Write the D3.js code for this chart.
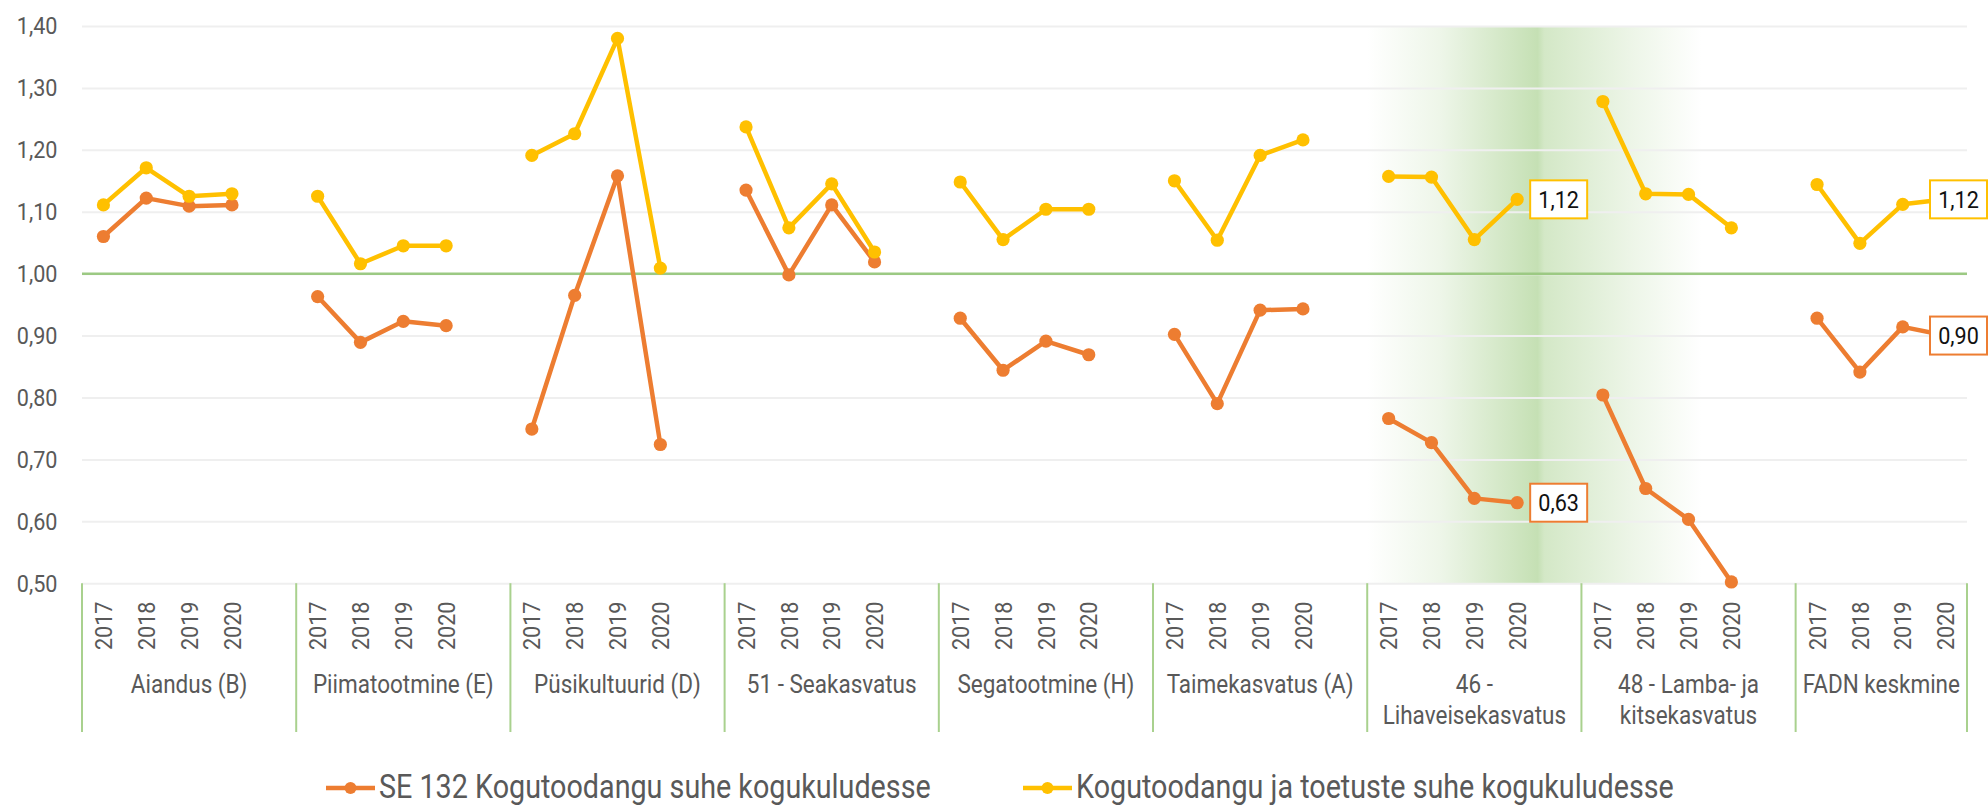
<!DOCTYPE html>
<html>
<head>
<meta charset="utf-8">
<script src="https://cdn.jsdelivr.net/npm/d3@7"></script>
<style>
  html, body { margin: 0; padding: 0; background: #fff; }
  svg { display: block; font-family: Roboto, "Noto Sans", sans-serif; }
</style>
</head>
<body>
<svg id="chart" width="1988" height="806"></svg>
<script>
// ---- data -------------------------------------------------------------
const categories = [
  "Aiandus (B)",
  "Piimatootmine (E)",
  "Püsikultuurid (D)",
  "51 - Seakasvatus",
  "Segatootmine (H)",
  "Taimekasvatus (A)",
  "46 - Lihaveisekasvatus",
  "48 - Lamba- ja kitsekasvatus",
  "FADN keskmine"
];
const years = ["2017", "2018", "2019", "2020"];

const seriesNames = [
  "SE 132 Kogutoodangu suhe kogukuludesse",
  "Kogutoodangu ja toetuste suhe kogukuludesse"
];

// SE 132: gross output / total costs
const outputRatio = [
  [1.060, 1.122, 1.109, 1.111],
  [0.963, 0.889, 0.923, 0.916],
  [0.749, 0.965, 1.158, 0.724],
  [1.135, 0.998, 1.111, 1.019],
  [0.928, 0.844, 0.891, 0.869],
  [0.902, 0.790, 0.941, 0.943],
  [0.766, 0.727, 0.637, 0.63],
  [0.804, 0.653, 0.603, 0.502],
  [0.928, 0.841, 0.914, 0.90]
];

// (gross output + subsidies) / total costs
const outputSubsidyRatio = [
  [1.111, 1.171, 1.125, 1.129],
  [1.125, 1.016, 1.045, 1.045],
  [1.191, 1.226, 1.380, 1.009],
  [1.237, 1.074, 1.145, 1.035],
  [1.148, 1.055, 1.104, 1.104],
  [1.150, 1.054, 1.191, 1.216],
  [1.157, 1.156, 1.055, 1.12],
  [1.278, 1.129, 1.128, 1.074],
  [1.144, 1.049, 1.112, 1.12]
];

const yTicks = [0.5, 0.6, 0.7, 0.8, 0.9, 1.0, 1.1, 1.2, 1.3, 1.4];
const labelledCategories = [6, 8];   // groups whose 2020 values get a value box
const highlightedCategory = 6;       // group behind the green glow

// ---- layout -----------------------------------------------------------
const colors = ["#ED7D31", "#FFC000"];
const textGray = "#595959";
const plot = { left: 82, right: 1967, top: 26, bottom: 583.2 };
const slotsPerGroup = years.length + 1;               // one blank slot between groups
const slotCount = categories.length * slotsPerGroup - 1;
const condenseK = 0.9;

const svg = d3.select("#chart");

const x = d3.scaleBand()
  .domain(d3.range(slotCount))
  .range([plot.left, plot.right])
  .padding(0);
const bw = x.bandwidth();
const px = (ci, yi) => x(ci * slotsPerGroup + yi) + bw / 2;

const y = d3.scaleLinear().domain([0.5, 1.4]).range([plot.bottom, plot.top]);

const fmt = v => d3.format(".2f")(v).replace(".", ",");

function condense(sel, k = condenseK) {
  sel.each(function () {
    const w = this.getComputedTextLength();
    this.setAttribute("textLength", w * k);
    this.setAttribute("lengthAdjust", "spacingAndGlyphs");
  });
}

// ---- green glow behind one group --------------------------------------
const defs = svg.append("defs");
const grad = defs.append("linearGradient").attr("id", "glow")
  .attr("x1", "0%").attr("x2", "100%").attr("y1", "0%").attr("y2", "0%");
[[0, 0], [0.22, 0.3], [0.51, 1], [0.53, 0.75], [0.8, 0.3], [1, 0]].forEach(([o, a]) =>
  grad.append("stop").attr("offset", o).attr("stop-color", "#C5E0B4").attr("stop-opacity", a));

const gx0 = x(highlightedCategory * slotsPerGroup);
svg.append("rect")
  .attr("x", gx0)
  .attr("y", y(1.4))
  .attr("width", bw * 7.8)
  .attr("height", y(0.5) - y(1.4))
  .attr("fill", "url(#glow)");

// ---- grid -------------------------------------------------------------
svg.append("g")
  .attr("transform", `translate(${plot.left},0)`)
  .call(d3.axisLeft(y).tickValues(yTicks).tickSize(-(plot.right - plot.left)).tickFormat(""))
  .call(g => g.select(".domain").remove())
  .call(g => g.selectAll(".tick line").attr("stroke", "#EFEFEF").attr("stroke-width", 2));

// y labels
const yLab = svg.append("g").selectAll("text").data(yTicks).join("text")
  .attr("x", 57.5).attr("y", d => y(d)).attr("dy", "0.35em")
  .attr("text-anchor", "end").attr("font-size", 24).attr("fill", textGray)
  .text(fmt);
condense(yLab);

// reference line at 1,00
svg.append("line")
  .attr("x1", plot.left).attr("x2", plot.right)
  .attr("y1", y(1)).attr("y2", y(1))
  .attr("stroke", "#9CC983").attr("stroke-width", 2.5);

// ---- category axis ----------------------------------------------------
const sepY0 = plot.bottom, sepY1 = 732;
const sepXs = d3.range(categories.length).map(ci => x(ci * slotsPerGroup)).concat([plot.right]);
svg.append("g").selectAll("line").data(sepXs).join("line")
  .attr("x1", d => d).attr("x2", d => d)
  .attr("y1", sepY0).attr("y2", sepY1)
  .attr("stroke", "#A9D18E").attr("stroke-width", 2);

const yearG = svg.append("g");
categories.forEach((c, ci) => {
  years.forEach((yr, yi) => {
    const t = yearG.append("text")
      .attr("transform", `translate(${px(ci, yi)},601.5) rotate(-90)`)
      .attr("dy", "0.36em")
      .attr("text-anchor", "end")
      .attr("font-size", 24)
      .attr("fill", textGray)
      .text(yr);
    condense(t);
  });
});

// category names, wrapped to the group width
const catG = svg.append("g");
const maxCatWidth = 200;
categories.forEach((c, ci) => {
  const groupSlots = ci === categories.length - 1 ? years.length : slotsPerGroup;
  const cx = x(ci * slotsPerGroup) + groupSlots * bw / 2;
  const words = c.split(" ");
  const lines = [];
  let cur = "";
  const probe = catG.append("text").attr("font-size", 25);
  words.forEach(w => {
    const test = cur ? cur + " " + w : w;
    probe.text(test);
    if (cur && probe.node().getComputedTextLength() * condenseK > maxCatWidth) {
      lines.push(cur);
      cur = w;
    } else cur = test;
  });
  lines.push(cur);
  probe.remove();
  lines.forEach((ln, li) => {
    const t = catG.append("text")
      .attr("x", cx).attr("y", 693 + li * 31.3)
      .attr("text-anchor", "middle")
      .attr("font-size", 25)
      .attr("fill", textGray)
      .text(ln);
    condense(t);
  });
});

// ---- series -----------------------------------------------------------
const allSeries = [outputRatio, outputSubsidyRatio];
const line = d3.line().x(d => d[0]).y(d => d[1]);

allSeries.forEach((series, si) => {
  const g = svg.append("g");
  series.forEach((vals, ci) => {
    const pts = vals.map((v, yi) => [px(ci, yi), y(v)]);
    g.append("path").attr("d", line(pts))
      .attr("fill", "none").attr("stroke", colors[si])
      .attr("stroke-width", 4.5).attr("stroke-linejoin", "round");
    g.selectAll(null).data(pts).join("circle")
      .attr("cx", d => d[0]).attr("cy", d => d[1]).attr("r", 6.6)
      .attr("fill", colors[si]);
  });
});

// ---- value boxes for the last year ------------------------------------
const labG = svg.append("g");
allSeries.forEach((series, si) => {
  labelledCategories.forEach(ci => {
    const v = series[ci][years.length - 1];
    const cx0 = px(ci, years.length - 1), cy0 = y(v);
    const bwBox = 57, bhBox = 38;
    let bx = cx0 + 13;
    bx = Math.min(bx, 1987 - bwBox);
    labG.append("rect")
      .attr("x", bx).attr("y", cy0 - bhBox / 2)
      .attr("width", bwBox).attr("height", bhBox)
      .attr("fill", "#fff").attr("stroke", colors[si]).attr("stroke-width", 2);
    const t = labG.append("text")
      .attr("x", bx + bwBox / 2).attr("y", cy0).attr("dy", "0.36em")
      .attr("text-anchor", "middle").attr("font-size", 24).attr("fill", "#111")
      .text(fmt(v));
    condense(t);
  });
});

// ---- legend -----------------------------------------------------------
const legendItems = [{ x: 326, name: seriesNames[0], c: colors[0] },
                     { x: 1023, name: seriesNames[1], c: colors[1] }];
const legY = 788;
const legG = svg.append("g");
legendItems.forEach(it => {
  legG.append("line").attr("x1", it.x).attr("x2", it.x + 49)
    .attr("y1", legY).attr("y2", legY)
    .attr("stroke", it.c).attr("stroke-width", 4.5);
  legG.append("circle").attr("cx", it.x + 24.5).attr("cy", legY).attr("r", 6).attr("fill", it.c);
  const t = legG.append("text")
    .attr("x", it.x + 53).attr("y", 798)
    .attr("font-size", 33).attr("fill", textGray)
    .text(it.name);
  condense(t, 0.87);
});
</script>
</body>
</html>
